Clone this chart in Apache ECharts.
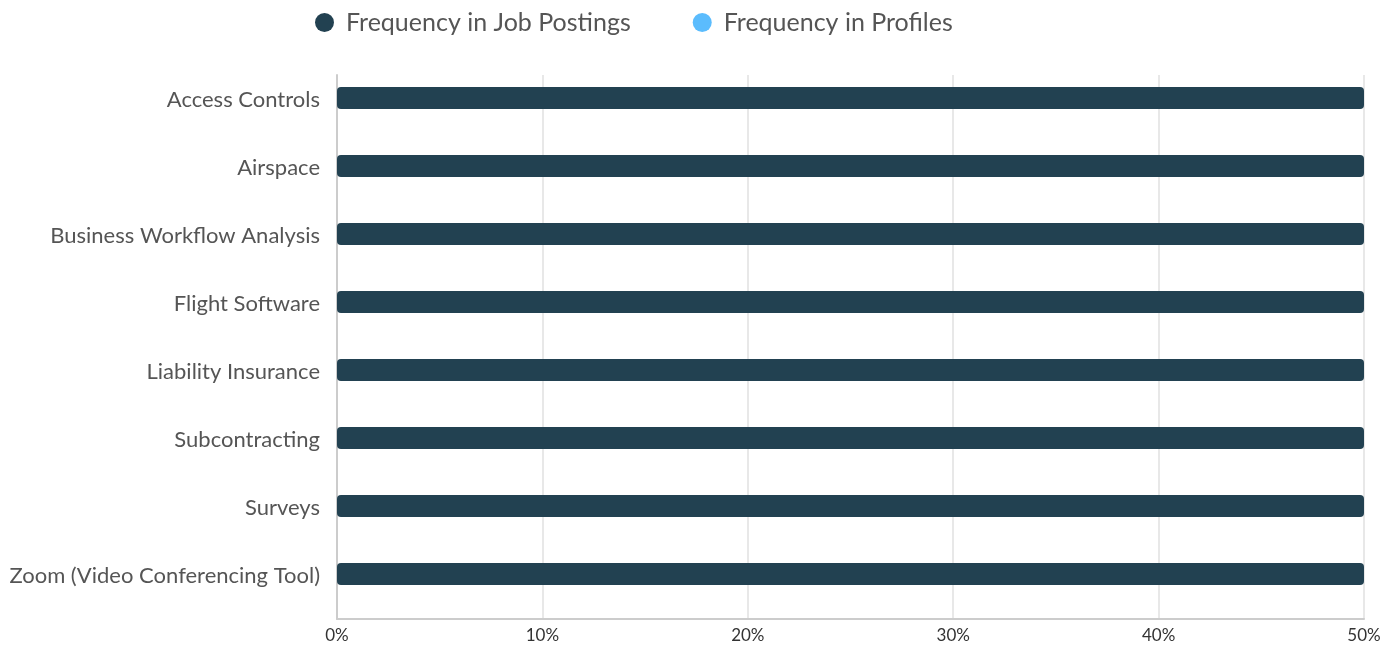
<!DOCTYPE html>
<html><head><meta charset="utf-8">
<script src="https://cdn.jsdelivr.net/npm/echarts@6/dist/echarts.min.js"></script>
<style>html,body{margin:0;padding:0;background:#fff}#c{width:1399px;height:645px}</style>
</head><body><div id="c"></div>
<script>
const categories = ["Access Controls","Airspace","Business Workflow Analysis","Flight Software","Liability Insurance","Subcontracting","Surveys","Zoom (Video Conferencing Tool)"];
const jobPostings = [50,50,50,50,50,50,50,50];
const profiles = [0,0,0,0,0,0,0,0];
const xTicks = [0,10,20,30,40,50];
const seriesNames = ["Frequency in Job Postings","Frequency in Profiles"];
const chart = echarts.init(document.getElementById('c'));
chart.setOption({
  animation:false,
  textStyle:{fontFamily:'Lato'},
  legend:{top:5,left:310,itemGap:62,icon:'circle',itemWidth:19,itemHeight:19,
    textStyle:{fontSize:25,color:'#555',fontFamily:'Lato',padding:[0,0,0,7]},data:seriesNames},
  grid:{left:337,right:35,top:75,bottom:26,containLabel:false},
  xAxis:{type:'value',min:xTicks[0],max:xTicks[xTicks.length-1],interval:10,
    axisLabel:{formatter:'{value}%',fontSize:17,color:'#333',fontFamily:'Lato',margin:8},
    axisLine:{show:true,lineStyle:{color:'#ccc',width:2}},axisTick:{show:false},
    splitLine:{show:true,lineStyle:{color:'#e0e0e0',width:1.5}}},
  yAxis:{type:'category',data:categories,inverse:true,
    axisLabel:{fontSize:22,color:'#555',fontFamily:'Lato',margin:17,lineHeight:19,
      formatter:function(v){return v+'\n';}},
    axisLine:{show:true,lineStyle:{color:'#ccc',width:2}},axisTick:{show:false}},
  series:[
    {name:seriesNames[0],type:'bar',data:jobPostings,barWidth:22,barGap:'0%',
      itemStyle:{color:'#224151',borderRadius:4}},
    {name:seriesNames[1],type:'bar',data:profiles,barWidth:22,
      itemStyle:{color:'#5bbcfd',borderRadius:4}}
  ]
});
</script></body></html>
